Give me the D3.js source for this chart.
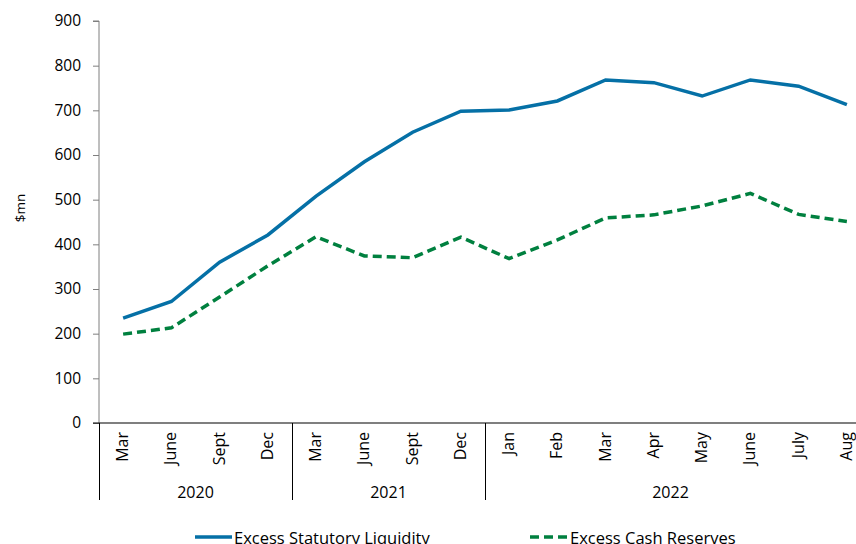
<!DOCTYPE html>
<html>
<head>
<meta charset="utf-8">
<script src="https://cdn.jsdelivr.net/npm/d3@7"></script>
<style>
  body { margin: 0; background: #fff; }
  svg { display: block; font-family: "Open Sans", sans-serif; }
</style>
</head>
<body>
<svg id="chart" width="856" height="544"></svg>
<script>
// Data
var months = ["Mar", "June", "Sept", "Dec", "Mar", "June", "Sept", "Dec",
              "Jan", "Feb", "Mar", "Apr", "May", "June", "July", "Aug"];
var years = ["2020", "2020", "2020", "2020", "2021", "2021", "2021", "2021",
             "2022", "2022", "2022", "2022", "2022", "2022", "2022", "2022"];
var statutory = [235, 272, 360, 421, 508, 585, 651, 698, 701, 721, 768, 762, 732, 768, 754, 713];
var cashReserves = [199, 213, 282, 352, 417, 374, 370, 416, 368, 410, 459, 466, 486, 514, 467, 451];
var yTicks = [0, 100, 200, 300, 400, 500, 600, 700, 800, 900];

var svg = d3.select('#chart');
var plotLeft = 99, plotTop = 21, plotBottom = 423;
var step = 48.25;

var idx = d3.range(months.length);
var x = d3.scaleBand()
    .domain(idx)
    .range([plotLeft, plotLeft + step * months.length])
    .padding(0);
var y = d3.scaleLinear().domain([0, 900]).range([plotBottom, plotTop]);

// y axis
var yAxis = svg.append('g')
    .attr('transform', 'translate(' + plotLeft + ',0)')
    .call(d3.axisLeft(y).tickValues(yTicks).tickSize(6).tickPadding(12));
yAxis.select('.domain').attr('stroke', '#7f7f7f').attr('d', 'M-6,' + plotTop + 'H0V' + plotBottom);
yAxis.selectAll('.tick line').attr('stroke', '#7f7f7f');
yAxis.selectAll('.tick text').attr('font-size', 15.5).attr('fill', '#000')
    .attr('font-family', '"Open Sans", sans-serif');

svg.append('text')
    .attr('transform', 'translate(25,208) rotate(-90)')
    .attr('text-anchor', 'middle')
    .attr('font-size', 13.5)
    .text('$mn');

// x axis baseline
svg.append('line')
    .attr('x1', plotLeft - 6).attr('x2', 856)
    .attr('y1', plotBottom).attr('y2', plotBottom)
    .attr('stroke', '#000').attr('stroke-width', 1.2);

// year group separators
var groups = d3.groups(idx, function(i) { return years[i]; });
var sepX = [plotLeft].concat(groups.map(function(g) { return x(g[1][g[1].length - 1]) + x.bandwidth(); }));
svg.selectAll('.sep').data(sepX).enter().append('line')
    .attr('x1', function(d) { return Math.round(d) + 0.5; })
    .attr('x2', function(d) { return Math.round(d) + 0.5; })
    .attr('y1', plotBottom).attr('y2', 500)
    .attr('stroke', '#000').attr('stroke-width', 1);

// month labels
svg.selectAll('.month').data(idx).enter().append('text')
    .attr('transform', function(i) {
        return 'translate(' + (x(i) + x.bandwidth() / 2 + 5) + ',' + (plotBottom + 9) + ') rotate(-90)';
    })
    .attr('text-anchor', 'end')
    .attr('font-size', 16)
    .text(function(i) { return months[i]; });

// year labels
svg.selectAll('.year').data(groups).enter().append('text')
    .attr('x', function(g) {
        var a = x(g[1][0]), b = x(g[1][g[1].length - 1]) + x.bandwidth();
        return Math.min((a + b) / 2, (a + 856) / 2);
    })
    .attr('y', 498)
    .attr('text-anchor', 'middle')
    .attr('font-size', 16)
    .text(function(g) { return g[0]; });

// lines
var line = d3.line()
    .x(function(d, i) { return x(i) + x.bandwidth() / 2; })
    .y(function(d) { return y(d); });

svg.append('path')
    .datum(statutory)
    .attr('d', line)
    .attr('fill', 'none')
    .attr('stroke', '#0570a6')
    .attr('stroke-width', 3.5);

svg.append('path')
    .datum(cashReserves)
    .attr('d', line)
    .attr('fill', 'none')
    .attr('stroke', '#00803f')
    .attr('stroke-width', 3.5)
    .attr('stroke-dasharray', '9,5');

// legend
var legend = svg.append('g');
legend.append('line')
    .attr('x1', 195).attr('x2', 232).attr('y1', 537).attr('y2', 537)
    .attr('stroke', '#0570a6').attr('stroke-width', 3.5);
legend.append('text')
    .attr('x', 234).attr('y', 544)
    .attr('font-size', 16.5)
    .text('Excess Statutory Liquidity');
legend.append('line')
    .attr('x1', 530).attr('x2', 568).attr('y1', 537).attr('y2', 537)
    .attr('stroke', '#00803f').attr('stroke-width', 3.5)
    .attr('stroke-dasharray', '9,5');
legend.append('text')
    .attr('x', 570).attr('y', 544)
    .attr('font-size', 16.5)
    .text('Excess Cash Reserves');
</script>
</body>
</html>
